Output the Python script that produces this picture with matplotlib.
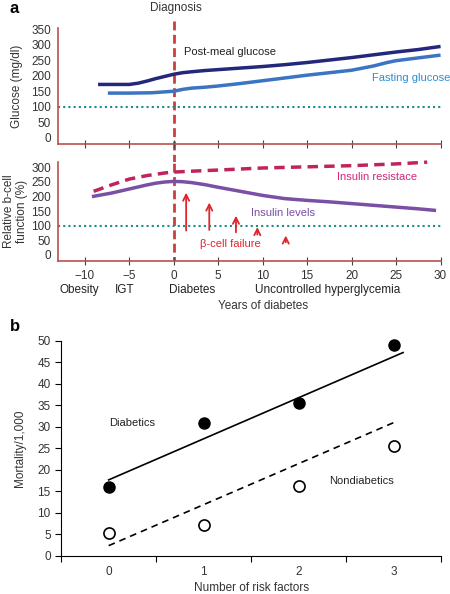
import matplotlib
matplotlib.use('Agg')
import matplotlib.pyplot as plt
from matplotlib.transforms import blended_transform_factory

# panel a, top: glucose (mg/dl) by years of diabetes
postmeal_x = [-8.5, -5, -4, -3, -2, -1, 0, 1, 2, 3.5, 5, 7.5, 10, 12.5, 15, 17.5, 20, 22.5, 25, 27.5, 30]
postmeal_y = [172, 172, 176, 183, 191, 198, 205, 210, 213, 217, 220, 225, 230, 236, 243, 251, 259, 268, 277, 285, 295]
fasting_x = [-7.4, -5, -2.5, 0, 1, 2, 3.5, 5, 7.5, 10, 12.5, 15, 17.5, 20, 22.5, 24, 25, 27.5, 30]
fasting_y = [144, 144, 145, 150, 156, 160, 163, 167, 175, 184, 193, 202, 210, 218, 232, 243, 249, 258, 267]

# panel a, bottom: relative b-cell function (%)
resist_x = [-9, -7, -5, -3, -1, 0, 2, 5, 10, 15, 20, 25, 28.5]
resist_y = [218, 240, 260, 272, 281, 284, 287, 291, 298, 302, 306, 312, 318]
insulin_x = [-9, -7, -5, -3, -2, -1, 0, 1, 2, 3.5, 5, 7.5, 10, 12.5, 15, 17.5, 20, 22.5, 25, 27.5, 29.3]
insulin_y = [201, 212, 226, 240, 246, 250, 252, 251, 248, 241, 232, 218, 204, 193, 187, 182, 176, 170, 164, 158, 153]
arrow_x = [1.4, 4.0, 7.0, 9.4, 12.6]
arrow_from = [74, 76, 68, 60, 34]
arrow_to = [223, 189, 144, 105, 76]
stage_x = [-10.6, -5.5, 2.1, 17.3]
stage_labels = ['Obesity', 'IGT', 'Diabetes', 'Uncontrolled hyperglycemia']

# panel b: mortality per 1,000 by number of risk factors
risk = [0, 1, 2, 3]
diabetics = [16, 31, 35.5, 49]
nondiabetics = [5.3, 7.3, 16.2, 25.5]
diab_line_x = [0, 3.1]
diab_line_y = [17.7, 47.3]
nondiab_line_x = [0, 3.0]
nondiab_line_y = [2.4, 31]

axis_red = '#b85050'
dash_red = '#c9403f'
txt = '#333333'
plt.rcParams['font.family'] = 'Liberation Sans'
plt.rcParams['font.size'] = 8
plt.rcParams['xtick.labelsize'] = 8.5
plt.rcParams['ytick.labelsize'] = 8.5

fig = plt.figure(figsize=(4.5, 5.94), dpi=100)
ax1 = fig.add_axes([0.129, 0.758, 0.851, 0.195])
ax2 = fig.add_axes([0.129, 0.561, 0.851, 0.166])
ax3 = fig.add_axes([0.136, 0.064, 0.844, 0.362])

vdash = (0, (3.2, 1.6))
for ax in (ax1, ax2):
    for s in ('top', 'right'):
        ax.spines[s].set_visible(False)
    for s in ('left', 'bottom'):
        ax.spines[s].set_color(axis_red)
        ax.spines[s].set_linewidth(1.2)
    ax.set_xlim(-13.0, 30.05)
    ax.set_xticks(range(-10, 31, 5))
    ax.tick_params(axis='x', direction='inout', length=6, color='#444444', labelcolor=txt)
    ax.tick_params(axis='y', length=0, labelcolor=txt, pad=5)
    ax.axhline(100, color='#1a8c8c', ls=(0, (1, 1.5)), lw=1.5)

# top: glucose
ax1.set_ylim(-20, 355)
ax1.set_yticks(range(0, 351, 50))
ax1.set_xticklabels([])
ax1.plot(postmeal_x, postmeal_y, color='#24277a', lw=2.5, solid_capstyle='butt')
ax1.plot(fasting_x, fasting_y, color='#3b74c2', lw=2.5, solid_capstyle='butt')
ax1.text(1.2, 276, 'Post-meal glucose', color='#222222', va='center')
ax1.text(22.3, 192, 'Fasting glucose', color='#2a8fd2', va='center')
ax1.set_ylabel('Glucose (mg/dl)', color=txt, fontsize=8.5)
ax1.yaxis.set_label_coords(-0.091, 0.5)
# diagnosis line runs from above the top panel down into the gap
ax1.plot([0, 0], [377, -78], color=dash_red, ls=vdash, lw=2, clip_on=False, zorder=1)
ax1.text(0.3, 420, 'Diagnosis', ha='center', va='center', color=txt, fontsize=8.5)

# bottom: b-cell function
ax2.set_ylim(-20, 318)
ax2.set_yticks(range(0, 301, 50))
ax2.axvline(0, color=dash_red, ls=(1.6, (3.2, 1.6)), lw=2, zorder=1)
ax2.plot(resist_x, resist_y, color='#c0245e', lw=2.5, ls=(0, (3, 1.8)), clip_on=False)
ax2.plot(insulin_x, insulin_y, color='#7a4fa6', lw=2.5)
for x, y0, y1 in zip(arrow_x, arrow_from, arrow_to):
    ax2.annotate('', xy=(x, y1), xytext=(x, y0),
                 arrowprops=dict(arrowstyle='->', color='#e0252b', lw=1.3, mutation_scale=11))
ax2.text(18.4, 266, 'Insulin resistace', color='#d1267a', va='center')
ax2.text(8.7, 143, 'Insulin levels', color='#7a4fa6', va='center')
ax2.text(3.0, 37, '\u03b2-cell failure', color='#e0252b', va='center')
ax2.set_ylabel('Relative b-cell\nfunction (%)', color=txt, fontsize=8.5, linespacing=1.1)
ax2.yaxis.set_label_coords(-0.078, 0.5)
ax2.set_xticklabels(['\u221210', '\u22125', '0', '5', '10', '15', '20', '25', '30'])
ax2.tick_params(axis='x', pad=4)
tr = blended_transform_factory(ax2.transData, ax2.transAxes)
for x, lab in zip(stage_x, stage_labels):
    ax2.text(x, -0.30, lab, transform=tr, ha='center', va='center', color='#222222', fontsize=8.5)
ax2.text(10, -0.455, 'Years of diabetes', transform=tr, ha='center', va='center', color=txt, fontsize=8.5)

# panel b
for s in ('top', 'right'):
    ax3.spines[s].set_visible(False)
ax3.set_xlim(-0.5, 3.5)
ax3.set_ylim(0, 50)
ax3.set_yticks(range(0, 51, 5))
ax3.set_xticks([-0.5, 0.5, 1.5, 2.5, 3.5])
ax3.set_xticklabels([])
ax3.set_xticks(risk, minor=True)
ax3.set_xticklabels([str(r) for r in risk], minor=True)
ax3.tick_params(axis='x', which='minor', length=0, pad=7, labelcolor=txt)
ax3.tick_params(axis='both', which='major', length=4, labelcolor=txt)
ax3.plot(diab_line_x, diab_line_y, color='black', lw=1.2)
ax3.plot(nondiab_line_x, nondiab_line_y, color='black', lw=1.2, ls=(0, (4, 3)))
ax3.plot(risk, diabetics, 'o', color='black', ms=8, clip_on=False)
ax3.plot(risk, nondiabetics, 'o', mfc='white', mec='black', mew=1.2, ms=8, clip_on=False)
ax3.text(0, 31, 'Diabetics', color='#222222', va='center')
ax3.text(2.32, 17.4, 'Nondiabetics', color='#222222', va='center')
ax3.set_ylabel('Mortality/1,000', color=txt, fontsize=8.5)
ax3.yaxis.set_label_coords(-0.092, 0.5)
ax3.set_xlabel('Number of risk factors', color=txt, fontsize=8.5)
ax3.xaxis.set_label_coords(0.5, -0.12)

fig.text(0.022, 0.985, 'a', fontsize=12, fontweight='bold', va='center')
fig.text(0.022, 0.45, 'b', fontsize=12, fontweight='bold', va='center')

fig.savefig('out.png', dpi=100)
